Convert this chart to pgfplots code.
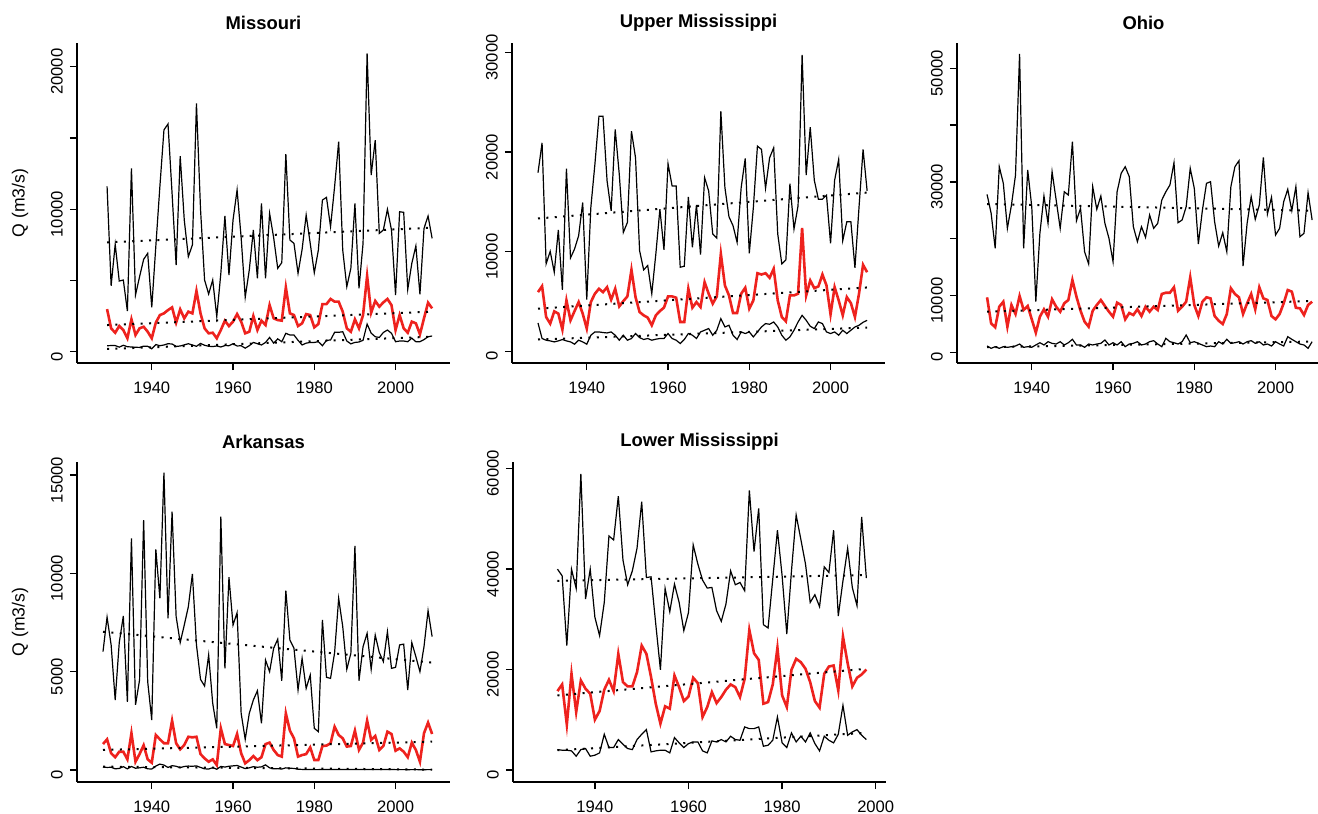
\documentclass[border=0pt]{standalone}
\usepackage{pgfplots}
\pgfplotsset{compat=1.18}
\usepackage{pgfplotstable}
\usepackage{fontspec}
\setmainfont{Liberation Sans}
\definecolor{meanred}{RGB}{238,34,30}

% annual max / mean / min discharge, m3/s
\pgfplotstableread{
yr qmax qmean qmin
1929 11600 2990 420
1930 4630 1640 430
1931 7530 1330 430
1932 4960 1800 320
1933 5030 1520 450
1934 2850 940 350
1935 12870 2270 330
1936 3980 1170 310
1937 5260 1640 300
1938 6480 1750 390
1939 6900 1400 380
1940 3110 940 200
1941 7400 2040 500
1942 11600 2570 420
1943 15560 2690 470
1944 15980 2920 560
1945 11100 3110 540
1946 6080 2040 370
1947 13730 2970 400
1948 9240 2340 480
1949 6670 2810 560
1950 7490 2690 470
1951 17430 4260 380
1952 10000 2690 580
1953 5030 1640 450
1954 4050 1290 380
1955 5030 1330 360
1956 2460 940 400
1957 5500 1520 330
1958 9520 2180 430
1959 5380 1800 420
1960 9240 2110 560
1961 11350 2640 400
1962 8000 2110 420
1963 3820 1290 250
1964 5730 1400 420
1965 8540 2500 650
1966 5150 1520 560
1967 10410 2180 470
1968 5150 1870 650
1969 9700 3270 1000
1970 8000 2340 600
1971 5850 2220 900
1972 6250 2180 700
1973 13870 4510 1290
1974 7840 2690 1170
1975 7600 2570 1170
1976 5500 1800 800
1977 7180 1990 470
1978 9590 2640 600
1979 7600 2570 650
1980 5540 1710 650
1981 7130 1940 700
1982 10640 3340 420
1983 10830 3340 800
1984 8770 3700 820
1985 11580 3510 1360
1986 14740 3510 1360
1987 7130 2810 1400
1988 4560 1640 750
1989 5850 1400 550
1990 10410 2270 650
1991 4440 1640 680
1992 7600 2570 800
1993 20940 5310 1940
1994 12400 2740 1300
1995 14850 3560 1050
1996 8300 3160 1000
1997 8540 3460 1350
1998 9990 3700 1520
1999 8540 3270 1290
2000 3980 1520 700
2001 9820 2570 750
2002 9780 1640 750
2003 4370 1330 700
2004 6200 2110 950
2005 7420 1990 700
2006 4020 1220 700
2007 8650 2340 850
2008 9520 3440 1050
2009 7950 3040 1100
}\missouri

\pgfplotstableread{
yr qmax qmean qmin
1928 17930 5930 2830
1929 20930 6530 1270
1930 8770 3430 1100
1931 10030 2770 1030
1932 7930 4000 930
1933 12170 3770 1030
1934 6170 2170 1170
1935 18330 5100 1030
1936 9370 3100 930
1937 10270 4030 700
1938 11600 4930 1100
1939 14930 3770 930
1940 5170 2270 700
1941 14430 4930 1600
1942 18770 5770 1930
1943 23600 6270 1930
1944 23600 5930 1870
1945 17100 6430 1830
1946 14100 5170 1930
1947 22270 6270 1600
1948 17770 4500 1100
1949 11930 5030 1600
1950 12930 5500 1100
1951 22100 8170 1270
1952 19430 5430 1770
1953 10100 3930 1370
1954 8170 3600 1170
1955 8600 3370 1270
1956 5770 2600 1100
1957 9770 3600 1200
1958 14270 4030 1270
1959 10170 4370 1270
1960 18830 5500 1770
1961 16600 5500 1270
1962 16600 5370 1100
1963 8430 2930 770
1964 8530 2930 1170
1965 15500 6270 1770
1966 10430 4370 1600
1967 14700 4930 1270
1968 9700 4430 1930
1969 17430 6930 2100
1970 16100 5770 2270
1971 11770 4770 1600
1972 11370 5500 2100
1973 24100 9770 3270
1974 16430 6600 2430
1975 13500 5600 2600
1976 12600 3830 1600
1977 10930 3830 1170
1978 16430 5770 1930
1979 19370 6370 1770
1980 9830 4270 1930
1981 14430 5100 1430
1982 20600 7830 1930
1983 20270 7700 2430
1984 16370 7830 2770
1985 19430 7370 2700
1986 20430 8270 2930
1987 11770 5100 2430
1988 8770 3430 1600
1989 9170 3000 1100
1990 16830 5600 1430
1991 12270 5600 2100
1992 14600 5770 2930
1993 29770 12370 3600
1994 17700 5600 3100
1995 22500 7100 2500
1996 17170 6330 2270
1997 15270 6500 2930
1998 15270 7700 2770
1999 15670 6600 1930
2000 10830 3700 1770
2001 17170 6430 1930
2002 19270 5100 1600
2003 11100 3600 2100
2004 13000 5430 1770
2005 13000 4830 2100
2006 8370 3430 2430
2007 14430 5770 2600
2008 20270 8670 2900
2009 16100 7930 3100
}\uppermiss

\pgfplotstableread{
yr qmax qmean qmin
1929 27800 9680 1110
1930 24470 5100 700
1931 18310 4400 990
1932 32680 8030 700
1933 29750 8910 990
1934 21830 4510 880
1935 25930 8330 990
1936 31210 6740 1110
1937 52520 9910 1460
1938 18310 7450 880
1939 32100 8150 990
1940 25630 5810 880
1941 8910 3450 1290
1942 20950 6270 1690
1943 27520 7570 1290
1944 22710 6270 1870
1945 31800 9330 1580
1946 26810 8030 1460
1947 21830 7150 1870
1948 28270 8630 1290
1949 27690 9210 1690
1950 37080 12730 2290
1951 23170 9790 1290
1952 25350 7320 1290
1953 17710 5390 880
1954 15550 4510 1460
1955 29160 7320 1290
1956 25180 8330 1460
1957 27520 9210 1580
1958 22710 8150 2170
1959 20070 7150 1290
1960 15950 6270 1690
1961 28270 8740 1290
1962 31510 8330 1870
1963 32680 5810 990
1964 30920 6920 1460
1965 22110 6570 1580
1966 19480 7570 1870
1967 22110 6390 1290
1968 20240 8030 1460
1969 24170 7150 1870
1970 21830 8030 2050
1971 22710 7450 1460
1972 26810 10270 990
1973 28270 10490 2460
1974 29450 10490 1870
1975 33380 11440 1690
1976 22820 7320 1460
1977 23290 8030 1870
1978 25630 8910 3050
1979 32390 13200 1690
1980 28870 8330 1870
1981 19070 6390 1580
1982 25050 8910 1290
1983 29750 9680 990
1984 30040 9500 1110
1985 22990 6390 990
1986 18710 5560 1870
1987 21060 4980 1460
1988 17710 6740 2290
1989 29160 11270 1580
1990 32680 10270 1690
1991 33730 9680 1870
1992 15190 6740 1460
1993 22710 8630 1870
1994 27400 10270 2050
1995 23410 7570 1580
1996 25930 11440 1870
1997 34330 9500 1290
1998 24350 9210 1460
1999 27290 6390 1110
2000 20650 5810 1870
2001 21830 6740 1460
2002 26510 8630 1110
2003 28700 10970 2750
2004 24930 10680 2290
2005 29160 7850 1870
2006 20350 7740 1460
2007 20950 6570 1290
2008 28100 8330 700
2009 23290 8910 1870
}\ohio

\pgfplotstableread{
yr qmax qmean qmin
1928 6020 1320 150
1929 7770 1560 130
1930 6360 850 140
1931 3560 650 60
1932 6480 930 80
1933 7830 930 170
1934 3470 540 60
1935 11780 1870 180
1936 3310 420 90
1937 4580 810 110
1938 12710 1260 140
1939 4490 540 60
1940 2540 370 50
1941 11220 1780 200
1942 8730 1560 300
1943 15120 1360 250
1944 7710 1360 130
1945 13130 2510 220
1946 7800 1360 190
1947 6480 1050 120
1948 7370 1270 180
1949 8300 1690 200
1950 9970 1660 190
1951 6360 1690 210
1952 4610 810 130
1953 4270 590 60
1954 5850 420 50
1955 3390 540 120
1956 2120 250 40
1957 12880 2120 180
1958 5170 1320 150
1959 9800 1270 190
1960 7370 1220 210
1961 8000 1830 230
1962 2880 850 150
1963 1560 340 70
1964 2880 500 110
1965 3560 710 170
1966 4030 500 140
1967 2370 650 160
1968 5590 1320 260
1969 5000 1390 110
1970 6190 1020 60
1971 6650 760 70
1972 4540 680 50
1973 9120 2880 110
1974 6610 2000 90
1975 6190 1610 80
1976 4070 680 40
1977 5680 760 30
1978 4150 810 30
1979 4830 1150 25
1980 2120 510 20
1981 1950 510 20
1982 7630 1220 30
1983 4710 1240 25
1984 4660 1360 30
1985 5970 2200 30
1986 8730 1780 25
1987 7290 1610 30
1988 5120 1190 20
1989 5930 1220 25
1990 11390 2000 30
1991 4540 1020 20
1992 6270 1390 25
1993 6950 2510 30
1994 5120 1530 25
1995 6860 1730 30
1996 5970 1020 20
1997 5510 1220 25
1998 7030 1950 30
1999 5170 1830 25
2000 5220 980 20
2001 6360 1100 20
2002 6400 930 20
2003 4070 650 15
2004 6480 1390 20
2005 5760 1020 20
2006 5000 420 15
2007 6270 1870 15
2008 8100 2410 20
2009 6780 1830 20
}\arkansas

\pgfplotstableread{
yr qmax qmean qmin
1932 39960 15710 4090
1933 38630 17040 3960
1934 24760 9050 3960
1935 39960 19160 3830
1936 36110 11550 2770
1937 58900 17830 4090
1938 34010 16180 4290
1939 39960 15190 2770
1940 30370 10040 2970
1941 26740 11750 3430
1942 33340 15990 7130
1943 46550 17970 4490
1944 45760 15710 4490
1945 54480 23120 6080
1946 41740 17490 5150
1947 36850 16640 4290
1948 39620 16640 4090
1949 44110 19470 6080
1950 53350 24760 7130
1951 38290 23120 8060
1952 38430 18480 3630
1953 29060 13210 3830
1954 19950 9250 3960
1955 36110 12680 3960
1956 31500 12220 3430
1957 36980 18820 6470
1958 33340 16500 5420
1959 27730 13730 4490
1960 31360 14660 5280
1961 44770 18360 5610
1962 40950 17290 5610
1963 37780 10560 3830
1964 36190 12540 3430
1965 36320 15510 5810
1966 31700 13330 5610
1967 29580 14530 6080
1968 33020 15990 5610
1969 39620 17040 6740
1970 36850 16500 6080
1971 37300 14530 5940
1972 35660 18160 8590
1973 55610 27870 8250
1974 43450 23240 8250
1975 52040 21930 8590
1976 28920 13210 4750
1977 28260 13530 4950
1978 37970 17040 5940
1979 47680 24300 10560
1980 38630 14860 5420
1981 27070 12540 4490
1982 39620 19950 7400
1983 50710 22130 5610
1984 45890 21460 6740
1985 40950 20150 5610
1986 33340 17490 7400
1987 34870 13730 5280
1988 32490 12420 3830
1989 40410 19160 6740
1990 39290 20600 5940
1991 47680 20800 5420
1992 30640 15850 7130
1993 37640 26550 12880
1994 44110 21260 6930
1995 36320 16640 7590
1996 32690 18360 8060
1997 50320 19020 6930
1998 38170 20010 6080
}\lowermiss

\pgfplotsset{
  basin/.style={
    scale only axis, width=186.5pt, height=160pt,
    axis x line*=bottom, axis y line*=left,
    axis line style={line width=0.65pt},
    tick style={line width=0.65pt, black},
    tick align=outside, major tick length=3.6pt,
    scaled y ticks=false,
    xmin=1921.6, xmax=2013.4,
    xtick={1940,1960,1980,2000}, xticklabels={1940,1960,1980,2000},
    tick label style={font=\fontsize{8.3}{9}\selectfont},
    xticklabel style={yshift=-2.5pt},
    yticklabel style={rotate=90, anchor=south, xshift=-2.5pt},
    title style={font=\bfseries\fontsize{9.2}{10}\selectfont,
      at={(axis description cs:0.5,1)}, anchor=center, yshift=4pt},
    every axis y label/.style={at={(axis description cs:0,0.5)},
      xshift=-28.5pt, rotate=90, anchor=center,
      font=\fontsize{8.8}{10}\selectfont},
  },
  qmax/.style={black, line width=0.6pt, mark=none},
  qmean/.style={meanred, line width=1.3pt, mark=none},
  qmin/.style={black, line width=0.6pt, mark=none},
  trend/.style={black, line width=1pt, dash pattern=on 1pt off 3.2pt, mark=none},
}

\begin{document}
\begin{tikzpicture}
\useasboundingbox (0,0) rectangle (659pt,407pt);

% Missouri
\begin{axis}[basin, at={(38.5pt,225.5pt)}, anchor=south west,
  title={Missouri}, ylabel={Q (m3/s)},
  ymin=-793, ymax=21663,
  ytick={0,5000,10000,15000,20000}, yticklabels={0,,10000,,20000}]
\addplot[qmax] table[x=yr,y=qmax] {\missouri};
\addplot[qmean] table[x=yr,y=qmean] {\missouri};
\addplot[qmin] table[x=yr,y=qmin] {\missouri};
\addplot[trend] coordinates {(1929,7670) (2009,8700)};
\addplot[trend] coordinates {(1929,1870) (2009,2810)};
\addplot[trend] coordinates {(1929,190) (2009,1050)};
\end{axis}

% Upper Mississippi
\begin{axis}[basin, at={(256pt,225.5pt)}, anchor=south west,
  title={Upper Mississippi},
  ymin=-1190, ymax=30960,
  ytick={0,10000,20000,30000}, yticklabels={0,10000,20000,30000}]
\addplot[qmax] table[x=yr,y=qmax] {\uppermiss};
\addplot[qmean] table[x=yr,y=qmean] {\uppermiss};
\addplot[qmin] table[x=yr,y=qmin] {\uppermiss};
\addplot[trend] coordinates {(1928,13330) (2009,15930)};
\addplot[trend] coordinates {(1928,4270) (2009,6400)};
\addplot[trend] coordinates {(1928,1170) (2009,2370)};
\end{axis}

% Ohio
\begin{axis}[basin, at={(478.5pt,225.5pt)}, anchor=south west,
  title={Ohio},
  ymin=-1880, ymax=54460,
  ytick={0,10000,20000,30000,40000,50000}, yticklabels={0,10000,,30000,,50000}]
\addplot[qmax] table[x=yr,y=qmax] {\ohio};
\addplot[qmean] table[x=yr,y=qmean] {\ohio};
\addplot[qmin] table[x=yr,y=qmin] {\ohio};
\addplot[trend] coordinates {(1929,26110) (2009,24930)};
\addplot[trend] coordinates {(1929,7150) (2009,9030)};
\addplot[trend] coordinates {(1929,900) (2009,1900)};
\end{axis}

% Arkansas
\begin{axis}[basin, at={(38.5pt,16pt)}, anchor=south west,
  title={Arkansas}, ylabel={Q (m3/s)},
  ymin=-610, ymax=15660,
  ytick={0,5000,10000,15000}, yticklabels={0,5000,10000,15000}]
\addplot[qmax] table[x=yr,y=qmax] {\arkansas};
\addplot[qmean] table[x=yr,y=qmean] {\arkansas};
\addplot[qmin] table[x=yr,y=qmin] {\arkansas};
\addplot[trend] coordinates {(1928,7030) (2009,5460)};
\addplot[trend] coordinates {(1928,1020) (2009,1440)};
\addplot[trend] coordinates {(1928,170) (2009,20)};
\end{axis}

% Lower Mississippi
\begin{axis}[basin, at={(256.5pt,16pt)}, anchor=south west,
  title={Lower Mississippi},
  xmin=1922.5, xmax=2002.2,
  ymin=-2356, ymax=61256,
  ytick={0,20000,40000,60000}, yticklabels={0,20000,40000,60000}]
\addplot[qmax] table[x=yr,y=qmax] {\lowermiss};
\addplot[qmean] table[x=yr,y=qmean] {\lowermiss};
\addplot[qmin] table[x=yr,y=qmin] {\lowermiss};
\addplot[trend] coordinates {(1932,37640) (1998,38770)};
\addplot[trend] coordinates {(1932,14860) (1998,20150)};
\addplot[trend] coordinates {(1932,3960) (1998,7400)};
\end{axis}
\end{tikzpicture}
\end{document}
